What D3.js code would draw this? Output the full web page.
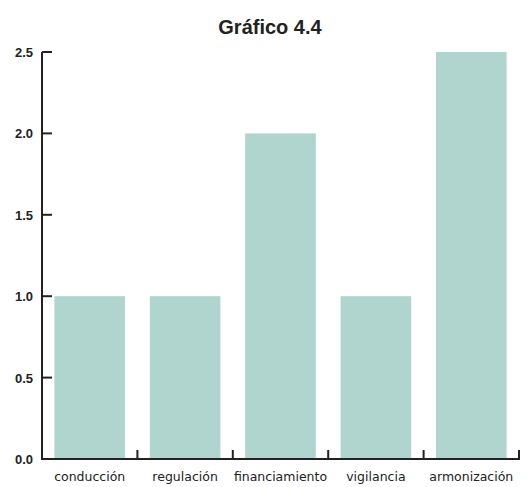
<!DOCTYPE html>
<html>
<head>
<meta charset="utf-8">
<script src="https://cdn.jsdelivr.net/npm/d3@7"></script>
<style>
  body { margin: 0; background: #fff; }
  .title { font-family: "Liberation Sans", Arial, sans-serif; font-weight: bold; font-size: 20px; fill: #222; }
  .ylab { font-family: "Liberation Sans", Arial, sans-serif; font-weight: bold; font-size: 13px; fill: #222; }
  .xlab { font-family: "DejaVu Sans", sans-serif; font-size: 12.5px; fill: #222; }
</style>
</head>
<body>
<svg class="graphic"></svg>
<script>
var categories = ["conducción", "regulación", "financiamiento", "vigilancia", "armonización"];
var values = [1, 1, 2, 1, 2.5];
var yTicks = [0, 0.5, 1, 1.5, 2, 2.5];

var width = 531,
    height = 487,
    margin = {top: 52, right: 12, bottom: 28, left: 42};

var svg = d3.select(".graphic")
    .attr("width", width)
    .attr("height", height);

var x = d3.scaleBand()
    .domain(categories)
    .range([margin.left, width - margin.right])
    .paddingInner(0.26)
    .paddingOuter(0.13);

var y = d3.scaleLinear()
    .domain([0, 2.5])
    .range([height - margin.bottom, margin.top]);

svg.append("text")
    .attr("class", "title")
    .attr("x", 270)
    .attr("y", 34)
    .attr("text-anchor", "middle")
    .text("Gráfico 4.4");

// bars
svg.selectAll("rect.bar")
    .data(values)
    .enter()
    .append("rect")
    .attr("class", "bar")
    .attr("x", function(d, i) { return x(categories[i]); })
    .attr("y", function(d) { return y(d); })
    .attr("width", x.bandwidth())
    .attr("height", function(d) { return y(0) - y(d); })
    .attr("fill", "#b0d4ce");

// y axis: line + inward ticks
var yAxis = svg.append("g");
yAxis.append("line")
    .attr("x1", margin.left).attr("x2", margin.left)
    .attr("y1", y(2.5)).attr("y2", y(0))
    .attr("stroke", "#222").attr("stroke-width", 2);
yAxis.selectAll("line.tick")
    .data(yTicks)
    .enter()
    .append("line")
    .attr("x1", margin.left).attr("x2", margin.left + 10)
    .attr("y1", function(d) { return y(d); })
    .attr("y2", function(d) { return y(d); })
    .attr("stroke", "#222").attr("stroke-width", 2);
yAxis.selectAll("text")
    .data(yTicks)
    .enter()
    .append("text")
    .attr("class", "ylab")
    .attr("x", 33)
    .attr("y", function(d) { return y(d) + 5; })
    .attr("text-anchor", "end")
    .text(function(d) { return d.toFixed(1); });

// x axis: line + ticks at category boundaries
var step = x.step();
var bounds = categories.map(function(c) { return x(c) - step * x.paddingInner() / 2 + step; });
var xAxis = svg.append("g");
xAxis.append("line")
    .attr("x1", margin.left - 1).attr("x2", bounds[bounds.length - 1] + 1)
    .attr("y1", y(0)).attr("y2", y(0))
    .attr("stroke", "#222").attr("stroke-width", 2);
xAxis.selectAll("line.tick")
    .data(bounds)
    .enter()
    .append("line")
    .attr("x1", function(d) { return d; }).attr("x2", function(d) { return d; })
    .attr("y1", y(0)).attr("y2", y(0) - 9)
    .attr("stroke", "#222").attr("stroke-width", 2);
xAxis.selectAll("text")
    .data(categories)
    .enter()
    .append("text")
    .attr("class", "xlab")
    .attr("x", function(d) { return x(d) + x.bandwidth() / 2; })
    .attr("y", y(0) + 22)
    .attr("text-anchor", "middle")
    .text(function(d) { return d; });
</script>
</body>
</html>
